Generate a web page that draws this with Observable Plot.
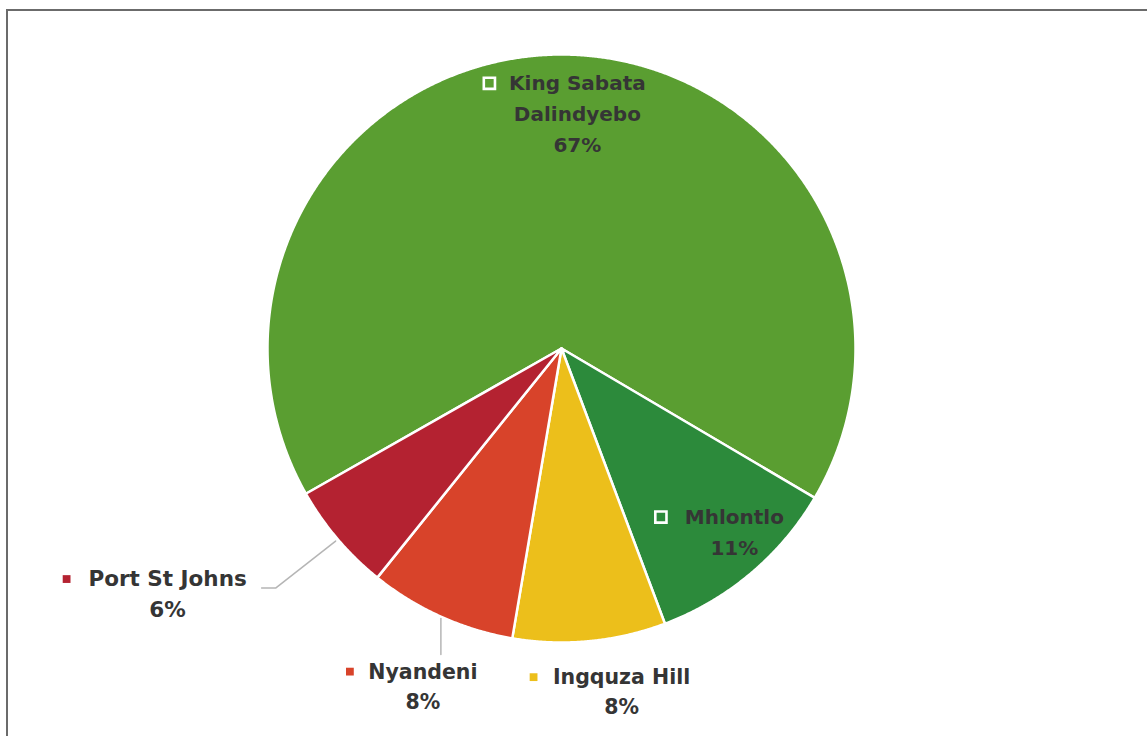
<!DOCTYPE html>
<html>
<head>
<meta charset="utf-8">
<script src="https://cdn.jsdelivr.net/npm/d3@7"></script>
<script src="https://cdn.jsdelivr.net/npm/@observablehq/plot@0.6"></script>
<style>
  html, body { margin: 0; padding: 0; background: #fff; overflow: hidden; }
  #wrap { position: relative; width: 1147px; height: 736px; }
  #frame { position: absolute; left: 6px; top: 9px; width: 1200px; height: 800px;
           border: 2px solid #6b6b6b; pointer-events: none; }
</style>
</head>
<body>
<div id="wrap"><div id="chart"></div><div id="frame"></div></div>
<script>
// ---- data ----
const names = ["King Sabata Dalindyebo", "Mhlontlo", "Ingquza Hill", "Nyandeni", "Port St Johns"];
const labelText = ["King Sabata\nDalindyebo", "Mhlontlo", "Ingquza Hill", "Nyandeni", "Port St Johns"];
const shares = [66.7, 10.8, 8.4, 8.1, 6.0];
const colors = ["#5a9e31", "#2c8a3b", "#ecbf1b", "#d8432a", "#b42231"];
const startDeg = 240.4; // clockwise from 12 o'clock

// ---- layout (pixels relative to slice anchor) ----
const R = 294; // pie radius in px
const layout = [
  {rf: 0.8, tx: 14, ty: -2, mx: -74, my: -30, inside: true, size: 20, lh: 1.55, leader: null},
  {rf: 0.7, tx: 40.5, ty: 23.5, mx: -33, my: 11, inside: true, size: 20, lh: 1.55, leader: null},
  {rf: 1, tx: 32, ty: 48, mx: -56, my: 36, inside: false, size: 20.5, lh: 1.48, leader: null},
  {rf: 1, tx: -18, ty: 68, mx: -91, my: 55, inside: false, size: 20.5, lh: 1.48, leader: [[0, 2], [0, 38]]},
  {rf: 1, tx: -170, ty: 52.5, mx: -271, my: 40, inside: false, size: 21.5, lh: 1.42, leader: [[-2, 2], [-62, 49], [-76, 49]]}
];

const cx = 561, cy = 348, W = 1147, H = 736;
const total = d3.sum(shares);
const rad = d => d * Math.PI / 180;
const polar = (deg, r) => ({u: r * Math.sin(rad(deg)), v: r * Math.cos(rad(deg))});
const off = (p, dx, dy) => ({u: p.u + dx / R, v: p.v - dy / R});

// slices as polygons in unit coordinates
const polyPts = [];
const slices = [];
let a = startDeg;
shares.forEach((s, i) => {
  const a0 = a, a1 = a + s / total * 360;
  a = a1;
  const mid = (a0 + a1) / 2;
  slices.push({name: names[i], a0, a1, mid, share: s});
  polyPts.push({name: names[i], u: 0, v: 0});
  const n = Math.max(2, Math.ceil((a1 - a0) / 0.25));
  for (let k = 0; k <= n; k++) {
    const p = polar(a0 + (a1 - a0) * k / n, 1);
    polyPts.push({name: names[i], u: p.u, v: p.v});
  }
  polyPts.push({name: names[i], u: 0, v: 0});
});

const labels = [], markers = [], leaders = [];
slices.forEach((s, i) => {
  const L = layout[i];
  const anchor = polar(s.mid, L.rf);
  const t = off(anchor, L.tx, L.ty);
  labels.push({u: t.u, v: t.v, text: labelText[i] + "\n" + Math.round(s.share) + "%", size: L.size, lh: L.lh});
  const m = off(anchor, L.mx, L.my);
  markers.push({u: m.u, v: m.v, name: s.name, inside: L.inside});
  if (L.leader) L.leader.forEach(([dx, dy]) => {
    const q = off(anchor, dx, dy);
    leaders.push({name: s.name, u: q.u, v: q.v});
  });
});

const xDomain = [-cx / R, (W - cx) / R];
const yDomain = [(cy - H) / R, cy / R];

const textMarks = labels.map(l => Plot.text([l], {
  x: "u", y: "v", text: "text", fontSize: l.size, fontWeight: "bold",
  fontFamily: "DejaVu Sans", lineHeight: l.lh, lineAnchor: "middle",
  textAnchor: "middle", fill: "#353535"
}));

const chart = Plot.plot({
  width: W, height: H,
  margin: 0,
  x: {domain: xDomain, axis: null},
  y: {domain: yDomain, axis: null},
  color: {domain: names, range: colors},
  marks: [
    Plot.line(polyPts, {x: "u", y: "v", z: "name", fill: "name", stroke: "white",
      strokeWidth: 2.5, strokeLinejoin: "round", curve: "linear"}),
    Plot.line(leaders, {x: "u", y: "v", z: "name", stroke: "#b5b5b5", strokeWidth: 1.5}),
    Plot.dot(markers.filter(d => d.inside), {x: "u", y: "v", symbol: "square", r: 6.3,
      fill: "name", stroke: "white", strokeWidth: 2.6}),
    Plot.dot(markers.filter(d => !d.inside), {x: "u", y: "v", symbol: "square", r: 4.4,
      fill: "name", stroke: "none"}),
    ...textMarks
  ]
});
document.getElementById("chart").appendChild(chart);
</script>
</body>
</html>
